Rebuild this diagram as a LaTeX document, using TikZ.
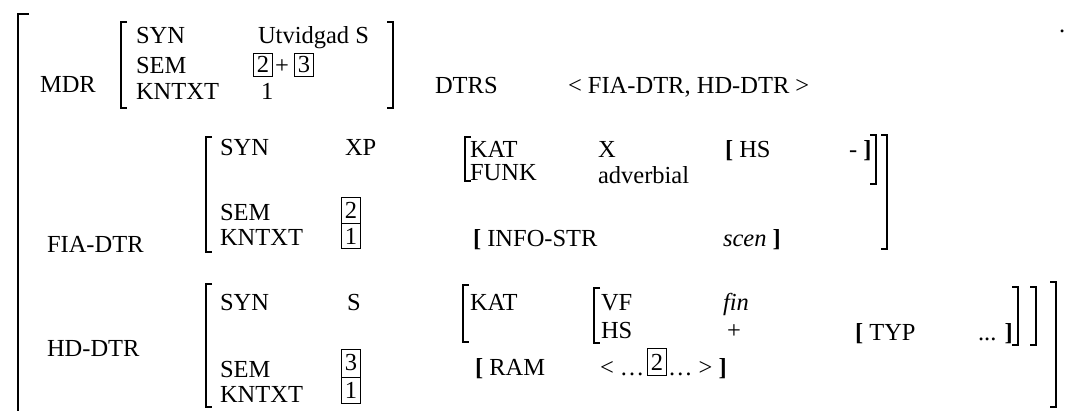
\documentclass[tikz,border=0pt]{standalone}
\usepackage{fontspec}
\setmainfont{Liberation Serif}
\newcommand\lbrak[4][brk]{\draw[#1] (#2,#3) ++(6,0) -- ++(-6,0) -- (#2,#4) -- ++(6,0);}
\newcommand\rbrak[4][brk]{\draw[#1] (#2,#3) ++(-6,0) -- ++(6,0) -- (#2,#4) -- ++(-6,0);}
\begin{document}
\begin{tikzpicture}[x=1pt,y=-1pt,
  every node/.style={inner sep=0pt, outer sep=0pt, font=\fontsize{24.5}{28}\selectfont},
  lbl/.style={anchor=base west},
  brk/.style={line width=1.6pt, line join=miter},
  outerbrk/.style={line width=2.4pt, line join=miter},
  tag/.style={draw, line width=0.9pt, minimum width=19pt, anchor=center}
]
\useasboundingbox (0,0) rectangle (1078,410);
% outer bracket
\draw[outerbrk] (29,14) -- (18,14) -- (18,412);
\node[lbl] (dot) at (1059,32) {.};

% ---------- MDR ----------
\node[lbl] (mdr) at (40,92) {MDR};
\lbrak{121}{22}{108}
\rbrak{393}{22}{108}
\node[lbl] (msyn) at (136,43) {SYN};
\node[lbl] (msem) at (136,73) {SEM};
\node[lbl] (mknt) at (136,99) {KNTXT};
\node[lbl] (msynv) at (258,43) {Utvidgad S};
\node[tag, minimum height=23pt] (mbox2) at (263,64.5) {2};
\node[lbl] (mplus) at (275,73) {+};
\node[tag, minimum height=23pt] (mbox3) at (304,64.5) {3};
\node[lbl] (mkntv) at (261,99) {1};
\node[lbl] (dtrs) at (435,93) {DTRS};
\node[lbl] (dtrsv) at (568,93) {< FIA-DTR, HD-DTR >};

% ---------- FIA-DTR ----------
\node[lbl] (fia) at (47,252) {FIA-DTR};
\lbrak{206}{137}{252}
\rbrak{887}{135}{249}
\node[lbl] (fsyn) at (220,155) {SYN};
\node[lbl] (fsynv) at (345,155) {XP};
\node[lbl] (fsem) at (220,220) {SEM};
\node[lbl] (fknt) at (220,245) {KNTXT};
\node[tag, minimum height=26pt] (fbox2) at (351,210.5) {2};
\node[tag, minimum height=25pt] (fbox1) at (351,236) {1};
\lbrak{465}{137}{181}
\rbrak{876}{135}{184}
\node[lbl] (fkat) at (470,157) {KAT};
\node[lbl] (ffunk) at (470,180) {FUNK};
\node[lbl] (fkatv) at (598,157) {X};
\node[lbl] (ffunkv) at (598,183) {adverbial};
\node[lbl] (fhs) at (725,157) {\textbf{[} HS};
\node[lbl] (fhsv) at (849,157) {- \textbf{]}};
\node[lbl] (finfo) at (473,246) {\textbf{[} INFO-STR};
\node[lbl] (finfov) at (723,246) {\textit{scen} \textbf{]}};

% ---------- HD-DTR ----------
\node[lbl] (hd) at (47,356) {HD-DTR};
\lbrak{206}{284}{407}
\rbrak{1056}{282}{407}
\node[lbl] (hsyn) at (220,310) {SYN};
\node[lbl] (hsynv) at (347,310) {S};
\node[lbl] (hsem) at (220,377) {SEM};
\node[lbl] (hknt) at (220,402) {KNTXT};
\node[tag, minimum height=28pt] (hbox3) at (351,363) {3};
\node[tag, minimum height=26pt] (hbox1) at (351,390) {1};
\lbrak{463}{285}{342}
\rbrak{1036}{287}{345}
\node[lbl] (hkat) at (470,310) {KAT};
\lbrak{594}{288}{343}
\rbrak{1018}{287}{345}
\node[lbl] (hvf) at (601,310) {VF};
\node[lbl] (hhs) at (601,338) {HS};
\node[lbl] (hvfv) at (723,310) {\textit{fin}};
\node[lbl] (hhsv) at (727,338) {+};
\node[lbl] (htyp) at (855,340) {\textbf{[} TYP};
\node[lbl] (htypv) at (978,340) {... \textbf{]}};
\node[lbl] (hram) at (475,375) {\textbf{[} RAM};
\node[lbl] (hramL) at (600,375) {< \dots};
\node[tag, minimum height=27pt] (hbox2) at (657,362) {2};
\node[lbl] (hramR) at (668,375) {\dots{} > \textbf{]}};
\end{tikzpicture}
\end{document}
